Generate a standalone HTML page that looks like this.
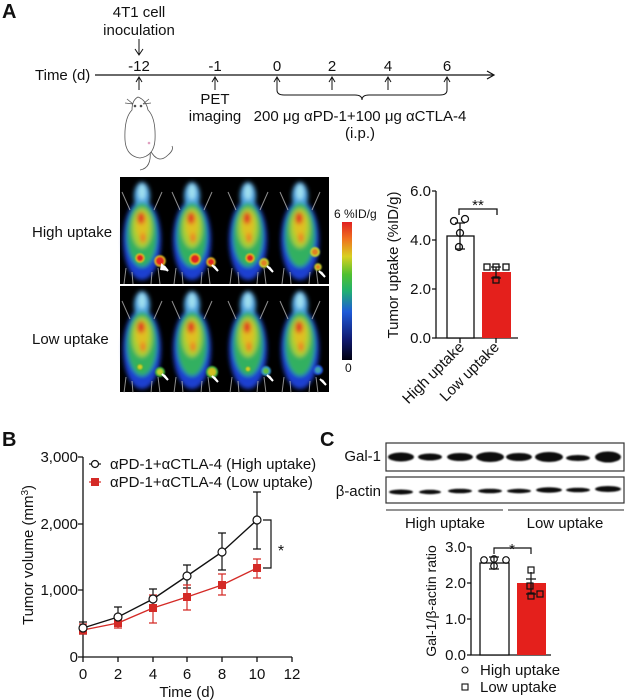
<!DOCTYPE html>
<html><head><meta charset="utf-8"><style>
html,body{margin:0;padding:0;background:#fff}
svg{display:block}
text{font-family:"Liberation Sans",Arial,sans-serif;fill:#111}
</style></head><body>
<svg width="629" height="700" viewBox="0 0 629 700" xmlns="http://www.w3.org/2000/svg">
<defs>
<filter id="bl" x="-30%" y="-30%" width="160%" height="160%"><feGaussianBlur stdDeviation="2.2"/></filter>
<filter id="bl2"><feGaussianBlur stdDeviation="0.8"/></filter>
<linearGradient id="cb" x1="0" y1="1" x2="0" y2="0">
<stop offset="0" stop-color="#000010"/><stop offset="0.15" stop-color="#101a70"/><stop offset="0.35" stop-color="#1e5ad8"/><stop offset="0.5" stop-color="#20b070"/><stop offset="0.62" stop-color="#50c030"/><stop offset="0.75" stop-color="#d8d020"/><stop offset="0.88" stop-color="#f07020"/><stop offset="1" stop-color="#e02020"/>
</linearGradient>
<g id="mouse">
<g filter="url(#bl)">
<ellipse cx="0" cy="60" rx="19" ry="40" fill="#1f3fd0"/>
<ellipse cx="0" cy="16" rx="8" ry="14" fill="#4aa0e0"/>
<ellipse cx="0" cy="12" rx="4" ry="8" fill="#a0e0f0"/>
<ellipse cx="0" cy="55" rx="15" ry="32" fill="#30b060"/>
<ellipse cx="0" cy="48" rx="10" ry="20" fill="#a8d030"/>
<ellipse cx="0" cy="45" rx="6" ry="13" fill="#e0c020"/>
<ellipse cx="-1" cy="38" rx="4" ry="6" fill="#e04020"/>
<ellipse cx="1" cy="58" rx="3" ry="5" fill="#f08020"/>
</g>
<g stroke="#ccc" stroke-width="1" fill="none" opacity="0.7">
<path d="M-12,30 L-20,12 M12,30 L20,12 M-16,88 L-18,104 M16,88 L18,104 M-10,92 L-9,104 M10,92 L9,104"/>
</g>
</g>
</defs>

<!-- Panel A -->
<text x="2" y="18" font-size="20" font-weight="bold">A</text>
<text x="139" y="17" font-size="15" text-anchor="middle">4T1 cell</text>
<text x="139" y="35" font-size="15" text-anchor="middle">inoculation</text>
<path d="M139,39 V54 M135,49 L139,55 L143,49" stroke="#111" fill="none" stroke-width="1"/>
<text x="35" y="80" font-size="15">Time (d)</text>
<line x1="95" y1="75" x2="493" y2="75" stroke="#111" stroke-width="1.2"/>
<path d="M487,71 L494,75 L487,79" stroke="#111" fill="none" stroke-width="1.2"/>
<g font-size="15" text-anchor="middle">
<text x="139" y="71">-12</text><text x="215" y="71">-1</text><text x="277" y="71">0</text><text x="332" y="71">2</text><text x="388" y="71">4</text><text x="447" y="71">6</text>
</g>
<g stroke="#111" fill="none" stroke-width="1">
<path d="M139,78 V90 M136,82 L139,77 L142,82"/>
<path d="M215,78 V90 M212,82 L215,77 L218,82"/>
<path d="M277,78 V90 M274,82 L277,77 L280,82"/>
<path d="M332,78 V90 M329,82 L332,77 L335,82"/>
<path d="M388,78 V90 M385,82 L388,77 L391,82"/>
<path d="M447,78 V90 M444,82 L447,77 L450,82"/>
<path d="M277,90 Q277,95 284,95 L355,95 Q362,95 362,100 Q362,95 369,95 L440,95 Q447,95 447,90"/>
</g>
<text x="215" y="104" font-size="15" text-anchor="middle">PET</text>
<text x="215" y="121" font-size="15" text-anchor="middle">imaging</text>
<text x="360" y="121" font-size="15" text-anchor="middle">200 μg αPD-1+100 μg αCTLA-4</text>
<text x="360" y="138" font-size="15" text-anchor="middle">(i.p.)</text>
<!-- mouse drawing -->
<g stroke="#555" fill="#fff" stroke-width="0.8">
<path d="M150,150 Q158,165 168,155 Q174,150 172,146" fill="none"/>
<path d="M150,150 Q152,168 140,170" fill="none"/>
<path d="M138,97 Q146,100 148,110 Q156,118 155,140 Q154,156 140,158 Q126,156 125,140 Q124,118 132,110 Q132,100 138,97 Z"/>
<path d="M133,104 l-6,-5 M133,104 l-8,-1 M143,104 l6,-5 M143,104 l8,-1" fill="none"/>
<circle cx="135" cy="106" r="0.9" fill="#333"/><circle cx="141" cy="106" r="0.9" fill="#333"/>
</g>
<circle cx="149" cy="143" r="1.3" fill="#e0a0c0"/>

<!-- PET images -->
<rect x="120" y="177" width="209" height="107" fill="#000"/>
<rect x="120" y="286" width="209" height="106" fill="#000"/>
<line x1="120" y1="285" x2="329" y2="285" stroke="#fff" stroke-width="1.5"/>
<g>
<use href="#mouse" x="142" y="180"/><use href="#mouse" x="192" y="180"/><use href="#mouse" x="248" y="180"/><use href="#mouse" x="300" y="180"/>
<use href="#mouse" x="142" y="289"/><use href="#mouse" x="192" y="289"/><use href="#mouse" x="248" y="289"/><use href="#mouse" x="300" y="289"/>
</g>
<g filter="url(#bl2)">
<circle cx="140" cy="258" r="4" fill="#e02020" stroke="#e0c020" stroke-width="1.5"/><circle cx="160" cy="261" r="5" fill="#e02020" stroke="#e0c020" stroke-width="1.5"/>
<circle cx="195" cy="259" r="5" fill="#e02020" stroke="#e0c020" stroke-width="1.5"/><circle cx="211" cy="262" r="4" fill="#e02020" stroke="#e0c020" stroke-width="1.5"/>
<circle cx="250" cy="258" r="4" fill="#e02020" stroke="#e0c020" stroke-width="1.5"/><circle cx="264" cy="263" r="4" fill="#e08020" stroke="#c0d030" stroke-width="2"/>
<circle cx="315" cy="252" r="4" fill="#e08020" stroke="#c0d030" stroke-width="2"/><circle cx="318" cy="267" r="3" fill="#e08020" stroke="#c0d030" stroke-width="1.5"/>
<circle cx="140" cy="367" r="3" fill="#d0d020" stroke="#40b040" stroke-width="1.5"/><circle cx="160" cy="372" r="4" fill="#c0d030" stroke="#40b040" stroke-width="2"/>
<circle cx="212" cy="372" r="5" fill="#d0c020" stroke="#40b040" stroke-width="2"/>
<circle cx="248" cy="369" r="2.5" fill="#d0d020" stroke="#40b040" stroke-width="1"/><circle cx="266" cy="371" r="4" fill="#60c040" stroke="#3090c0" stroke-width="2"/>
<circle cx="318" cy="370" r="4" fill="#40a0b0" stroke="#2050d0" stroke-width="2"/>
</g>
<g fill="#fff">
<path d="M168,271 l-6,-6 l-1,5 M168,271 l-4,-5" stroke="#fff" stroke-width="2"/>
<path d="M218,271 l-6,-6 M218,271 l-4,-5" stroke="#fff" stroke-width="2"/>
<path d="M273,272 l-6,-6 M273,272 l-4,-5" stroke="#fff" stroke-width="2"/>
<path d="M325,277 l-6,-6 M325,277 l-4,-5" stroke="#fff" stroke-width="2"/>
<path d="M168,380 l-6,-6 M168,380 l-4,-5" stroke="#fff" stroke-width="2"/>
<path d="M218,382 l-6,-6 M218,382 l-4,-5" stroke="#fff" stroke-width="2"/>
<path d="M273,381 l-6,-6 M273,381 l-4,-5" stroke="#fff" stroke-width="2"/>
<path d="M326,385 l-6,-6 M326,385 l-4,-5" stroke="#fff" stroke-width="2"/>
</g>
<text x="32" y="237" font-size="15">High uptake</text>
<text x="32" y="344" font-size="15">Low uptake</text>
<rect x="342" y="222" width="10" height="138" fill="url(#cb)"/>
<text x="334" y="218" font-size="12">6 %ID/g</text>
<text x="345" y="372" font-size="12">0</text>

<!-- Bar chart A -->
<g stroke="#111" stroke-width="1.3" fill="none">
<path d="M436,191 V338 H518"/>
<path d="M432,191 H436 M432,240 H436 M432,289 H436 M432,338 H436"/>
<path d="M460,338 V343 M496,338 V343"/>
</g>
<rect x="447" y="236" width="27" height="102" fill="#fff" stroke="#111" stroke-width="1.3"/>
<rect x="482" y="272" width="29" height="66" fill="#e4201c"/>
<g stroke="#111" stroke-width="1.3" fill="none">
<path d="M460,223 V249 M455,223 H465 M455,249 H465"/>
<path d="M496,267 V278 M491,267 H501 M491,278 H501"/>
<path d="M459,215 V209 H497 V215"/>
<circle cx="454" cy="221" r="3.5"/><circle cx="465" cy="219" r="3.5"/><circle cx="460" cy="233" r="3.5"/><circle cx="459" cy="247" r="3.5"/>
<rect x="484" y="264" width="6" height="6"/><rect x="493" y="264" width="6" height="6"/><rect x="503" y="264" width="6" height="6"/><rect x="493" y="277" width="6" height="6"/>
</g>
<text x="478" y="210" font-size="15" text-anchor="middle">**</text>
<g font-size="15" text-anchor="end">
<text x="431" y="196">6.0</text><text x="431" y="245">4.0</text><text x="431" y="294">2.0</text><text x="431" y="343">0.0</text>
</g>
<text transform="translate(398,265) rotate(-90)" font-size="15" text-anchor="middle">Tumor uptake (%ID/g)</text>
<text transform="translate(465,348) rotate(-45)" font-size="15" text-anchor="end">High uptake</text>
<text transform="translate(500,348) rotate(-45)" font-size="15" text-anchor="end">Low uptake</text>

<!-- Panel B -->
<text x="2" y="446" font-size="20" font-weight="bold">B</text>
<g stroke="#111" stroke-width="1.3" fill="none">
<path d="M83,457 V657 H292"/>
<path d="M78,457 H83 M78,524 H83 M78,590 H83 M78,657 H83"/>
<path d="M83,657 V662 M118,657 V662 M153,657 V662 M187,657 V662 M222,657 V662 M257,657 V662 M292,657 V662"/>
</g>
<g font-size="15" text-anchor="end">
<text x="78" y="462">3,000</text><text x="78" y="529">2,000</text><text x="78" y="595">1,000</text><text x="78" y="662">0</text>
</g>
<g font-size="15" text-anchor="middle">
<text x="83" y="679">0</text><text x="118" y="679">2</text><text x="153" y="679">4</text><text x="187" y="679">6</text><text x="222" y="679">8</text><text x="257" y="679">10</text><text x="292" y="679">12</text>
</g>
<text x="187" y="697" font-size="15" text-anchor="middle">Time (d)</text>
<text transform="translate(33,555) rotate(-90)" font-size="15" text-anchor="middle">Tumor volume (mm<tspan font-size="10" dy="-5">3</tspan><tspan dy="5">)</tspan></text>
<g stroke="#111" stroke-width="1.2" fill="none">
<path d="M83,622 V634 M79,622 H87 M79,634 H87"/>
<path d="M118,607 V626 M114,607 H122 M114,626 H122"/>
<path d="M153,589 V609 M149,589 H157 M149,609 H157"/>
<path d="M187,565 V588 M183,565 H191 M183,588 H191"/>
<path d="M222,533 V570 M218,533 H226 M218,570 H226"/>
<path d="M257,492 V549 M253,492 H261 M253,549 H261"/>
</g>
<g stroke="#d42a26" stroke-width="1.2" fill="none">
<path d="M83,624 V634 M79,624 H87 M79,634 H87"/>
<path d="M118,618 V628 M114,618 H122 M114,628 H122"/>
<path d="M153,595 V623 M149,595 H157 M149,623 H157"/>
<path d="M187,585 V610 M183,585 H191 M183,610 H191"/>
<path d="M222,574 V595 M218,574 H226 M218,595 H226"/>
<path d="M257,559 V578 M253,559 H261 M253,578 H261"/>
<polyline points="83,630 118,623 153,608 187,597 222,585 257,568" stroke-width="1.4"/>
</g>
<polyline points="83,628 118,617 153,599 187,576 222,552 257,520" stroke="#111" stroke-width="1.4" fill="none"/>
<g fill="#d42a26">
<rect x="79" y="626" width="8" height="8"/><rect x="114" y="619" width="8" height="8"/><rect x="149" y="604" width="8" height="8"/><rect x="183" y="593" width="8" height="8"/><rect x="218" y="581" width="8" height="8"/><rect x="253" y="564" width="8" height="8"/>
</g>
<g fill="#fff" stroke="#111" stroke-width="1.2">
<circle cx="83" cy="628" r="4"/><circle cx="118" cy="617" r="4"/><circle cx="153" cy="599" r="4"/><circle cx="187" cy="576" r="4"/><circle cx="222" cy="552" r="4"/><circle cx="257" cy="520" r="4"/>
</g>
<path d="M263,520 H271 V568 H263" stroke="#111" stroke-width="1.2" fill="none"/>
<text x="281" y="556" font-size="16" text-anchor="middle">*</text>
<line x1="89" y1="464" x2="101" y2="464" stroke="#111" stroke-width="1.2"/>
<circle cx="95" cy="464" r="3.5" fill="#fff" stroke="#111" stroke-width="1.2"/>
<line x1="89" y1="482" x2="101" y2="482" stroke="#d42a26" stroke-width="1.2"/>
<rect x="91" y="478" width="8" height="8" fill="#d42a26"/>
<text x="110" y="469" font-size="15">αPD-1+αCTLA-4 (High uptake)</text>
<text x="110" y="487" font-size="15">αPD-1+αCTLA-4 (Low uptake)</text>

<!-- Panel C -->
<text x="320" y="446" font-size="20" font-weight="bold">C</text>
<rect x="386" y="443" width="238" height="28" fill="#fff" stroke="#333" stroke-width="1.2"/>
<rect x="386" y="477" width="238" height="26" fill="#fff" stroke="#333" stroke-width="1.2"/>
<g filter="url(#bl2)" fill="#111">
<ellipse cx="401" cy="457" rx="13" ry="4.5"/><ellipse cx="430" cy="457" rx="12" ry="3.5"/><ellipse cx="460" cy="457" rx="13" ry="4"/><ellipse cx="490" cy="457" rx="14" ry="5"/>
<ellipse cx="519" cy="457" rx="13" ry="4"/><ellipse cx="549" cy="457" rx="14" ry="5"/><ellipse cx="578" cy="458" rx="12" ry="3"/><ellipse cx="608" cy="457" rx="13" ry="5.5"/>
<ellipse cx="401" cy="492" rx="12" ry="2.5"/><ellipse cx="430" cy="492" rx="11" ry="2.2"/><ellipse cx="460" cy="491" rx="12" ry="2.3"/><ellipse cx="490" cy="491" rx="12" ry="2.3"/>
<ellipse cx="519" cy="491" rx="12" ry="2.2"/><ellipse cx="549" cy="490" rx="13" ry="2.7"/><ellipse cx="578" cy="490" rx="12" ry="2.3"/><ellipse cx="608" cy="489" rx="13" ry="3"/>
</g>
<text x="381" y="461" font-size="15" text-anchor="end">Gal-1</text>
<text x="381" y="496" font-size="15" text-anchor="end">β-actin</text>
<line x1="386" y1="510" x2="503" y2="510" stroke="#555" stroke-width="1.2"/>
<line x1="508" y1="510" x2="624" y2="510" stroke="#555" stroke-width="1.2"/>
<text x="445" y="528" font-size="15" text-anchor="middle">High uptake</text>
<text x="565" y="528" font-size="15" text-anchor="middle">Low uptake</text>
<g stroke="#111" stroke-width="1.3" fill="none">
<path d="M471,547 V655 H551"/>
<path d="M467,547 H471 M467,583 H471 M467,619 H471 M467,655 H471"/>
</g>
<rect x="480" y="563" width="29" height="92" fill="#fff" stroke="#111" stroke-width="1.3"/>
<rect x="517" y="583" width="29" height="72" fill="#e4201c"/>
<g stroke="#111" stroke-width="1.2" fill="none">
<path d="M494,557 V569 M489,557 H499 M489,569 H499"/>
<path d="M531,579 V594 M526,579 H536 M526,594 H536 M531,579 V572"/>
<path d="M494,554 V548 H531 V554"/>
<circle cx="484" cy="560" r="3.3"/><circle cx="494" cy="559" r="3.3"/><circle cx="506" cy="560" r="3.3"/><circle cx="494" cy="566" r="3.3"/>
<rect x="527" y="583" width="6" height="6"/><rect x="537" y="591" width="6" height="6"/><rect x="528" y="593" width="6" height="6"/><rect x="528" y="567" width="6" height="6"/>
</g>
<text x="512" y="554" font-size="15" text-anchor="middle">*</text>
<g font-size="15" text-anchor="end">
<text x="466" y="552">3.0</text><text x="466" y="588">2.0</text><text x="466" y="624">1.0</text><text x="466" y="660">0.0</text>
</g>
<text transform="translate(436,601) rotate(-90)" font-size="14" text-anchor="middle">Gal-1/β-actin ratio</text>
<circle cx="465" cy="670" r="3" fill="#fff" stroke="#111" stroke-width="1.1"/>
<rect x="462" y="684" width="6" height="6" fill="#fff" stroke="#111" stroke-width="1.1"/>
<text x="480" y="675" font-size="15">High uptake</text>
<text x="480" y="692" font-size="15">Low uptake</text>
</svg>
</body></html>
